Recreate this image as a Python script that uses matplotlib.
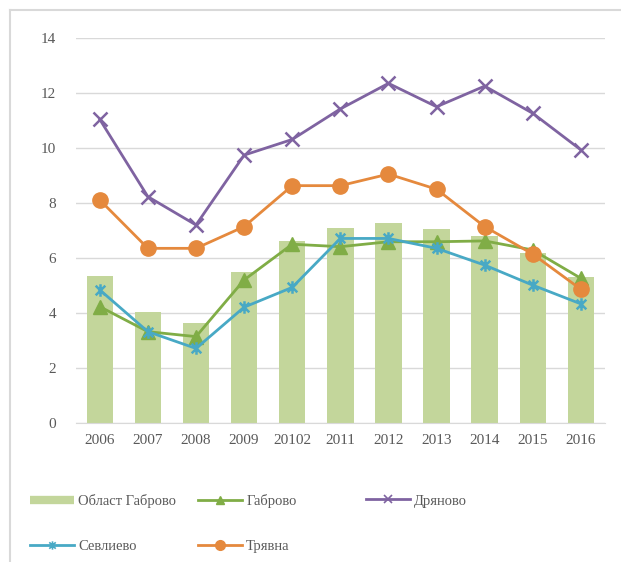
import numpy as np
import matplotlib
matplotlib.use('Agg')
from matplotlib import pyplot as plt
from matplotlib.path import Path
from matplotlib.lines import Line2D

plt.rcParams['font.family'] = ['Liberation Serif', 'DejaVu Serif']

years = ['2006', '2007', '2008', '2009', '20102', '2011', '2012', '2013', '2014', '2015', '2016']
oblast = [5.35, 4.03, 3.61, 5.49, 6.61, 7.08, 7.26, 7.03, 6.80, 6.18, 5.30]
gabrovo = [4.22, 3.31, 3.13, 5.19, 6.49, 6.40, 6.58, 6.58, 6.61, 6.28, 5.25]
dryanovo = [11.03, 8.22, 7.19, 9.73, 10.30, 11.41, 12.34, 11.49, 12.24, 11.25, 9.92]
sevlievo = [4.83, 3.31, 2.70, 4.20, 4.92, 6.70, 6.70, 6.34, 5.73, 5.00, 4.32]
tryavna = [8.10, 6.34, 6.34, 7.13, 8.62, 8.62, 9.04, 8.49, 7.13, 6.13, 4.85]

c_bar = '#c3d69b'
c_gab = '#80ad46'
c_dry = '#7f63a1'
c_sev = '#48a9c5'
c_try = '#e5893d'
c_text = '#595959'
c_grid = '#d9d9d9'

# asterisk marker: x plus vertical stroke
star = Path([(-1, -1), (1, 1), (-1, 1), (1, -1), (0, -1.3), (0, 1.3)],
            [Path.MOVETO, Path.LINETO, Path.MOVETO, Path.LINETO, Path.MOVETO, Path.LINETO])

fig = plt.figure(figsize=(6.21, 5.62), dpi=100)
ax = fig.add_axes([0.1219, 0.2479, 0.8523, 0.6850])
x = np.arange(len(years))

ax.bar(x, oblast, width=0.55, color=c_bar, zorder=2)
ax.plot(x, gabrovo, color=c_gab, lw=2, marker='^', ms=10, zorder=3)
ax.plot(x, dryanovo, color=c_dry, lw=2, marker='x', ms=10, mew=1.8, zorder=3)
ax.plot(x, sevlievo, color=c_sev, lw=2, marker=star, ms=9, mew=1.8, mfc='none', zorder=3)
ax.plot(x, tryavna, color=c_try, lw=2, marker='o', ms=11, zorder=4)

ax.set_xlim(-0.5, len(years) - 0.5)
ax.set_ylim(0, 14)
ax.set_yticks(np.arange(0, 15, 2))
ax.set_xticks(x)
ax.set_xticklabels(years)
ax.yaxis.grid(True, color=c_grid, lw=1, zorder=0)
ax.set_axisbelow(True)
for s in ['top', 'right', 'left']:
    ax.spines[s].set_visible(False)
ax.spines['bottom'].set_color(c_grid)
ax.tick_params(axis='both', length=0, labelsize=11, labelcolor=c_text)
ax.tick_params(axis='y', pad=14)
ax.tick_params(axis='x', pad=8)

# outer frame (top and left only)
fig.add_artist(Line2D([9.5 / 621, 1], [1 - 9.5 / 562] * 2, color=c_grid, lw=1.5))
fig.add_artist(Line2D([9.5 / 621] * 2, [0, 1 - 9.5 / 562], color=c_grid, lw=1.5))

h_bar = Line2D([], [], color=c_bar, lw=6, solid_capstyle='butt')
h_gab = Line2D([], [], color=c_gab, lw=2, marker='^', ms=6)
h_dry = Line2D([], [], color=c_dry, lw=2, marker='x', ms=6, mew=1.2)
h_sev = Line2D([], [], color=c_sev, lw=2, marker=star, ms=6, mew=1.2, mfc='none')
h_try = Line2D([], [], color=c_try, lw=2, marker='o', ms=7)

# one legend entry per slot so rows line up exactly
entries = [(h_bar, 'Област Габрово', 30, 501),
           (h_gab, 'Габрово', 198, 501),
           (h_dry, 'Дряново', 366, 501),
           (h_sev, 'Севлиево', 30, 546),
           (h_try, 'Трявна', 198, 546)]
for h, lab, px, py in entries:
    fig.legend([h], [lab], loc='center left', bbox_to_anchor=(px / 621, 1 - py / 562),
               frameon=False, fontsize=10.5, handlelength=3.0, handletextpad=0.3,
               borderpad=0, borderaxespad=0, labelcolor=c_text)

fig.savefig('out.png', dpi=100)
